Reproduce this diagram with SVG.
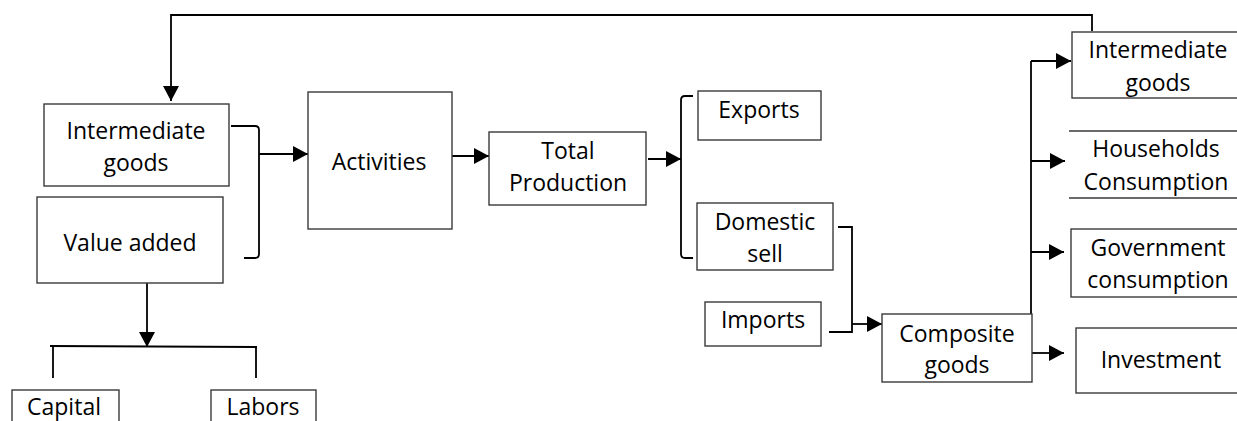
<svg xmlns="http://www.w3.org/2000/svg" width="1237" height="421" viewBox="0 0 1237 421">
<style>
.box{fill:#fff;stroke:#3a3a3a;stroke-width:1.4}
.ln{fill:none;stroke:#000;stroke-width:1.8}
.arr{fill:none;stroke:#000;stroke-width:1.8;marker-end:url(#ah)}
text{font-family:"Open Sans","Noto Sans",sans-serif;font-size:23px;fill:#000;text-anchor:middle}
</style>
<defs>
<marker id="ah" markerUnits="userSpaceOnUse" markerWidth="16" markerHeight="16" refX="15" refY="8" orient="auto">
<path d="M0,0 L15,8 L0,16 z" fill="#000"/>
</marker>
</defs>
<rect width="1237" height="421" fill="#fff"/>
<g id="connectors">
<path class="arr" d="M1092,31 V15 H171 V101"/>
<path class="ln" d="M231,126 H255 Q259,126 259,130 V254 Q259,258 255,258 H244"/>
<path class="arr" d="M259,154 H308"/>
<path class="arr" d="M452,156 H489"/>
<path class="arr" d="M648,159 H681"/>
<path class="ln" d="M693,96 H685 Q681,96 681,100 V254 Q681,258 685,258 H693"/>
<path class="ln" d="M838,227 H852 V332 H829"/>
<path class="arr" d="M852,324 H882"/>
<path class="arr" d="M147,283 V347"/>
<path class="ln" d="M50,346 L257,347"/>
<path class="ln" d="M53,346 V378 M256,347 V378"/>
<path class="ln" d="M1031,332 V61"/>
<path class="arr" d="M1031,61 H1071"/>
<path class="arr" d="M1031,161 H1065"/>
<path class="arr" d="M1031,252 H1064"/>
<path class="arr" d="M1032,353 H1064"/>
</g>
<g id="intermediate-goods-left"><rect class="box" x="44" y="104" width="185" height="82"/><text x="136" y="139">Intermediate</text><text x="136" y="171">goods</text></g>
<g id="value-added"><rect class="box" x="37" y="197" width="186" height="86"/><text x="130" y="251">Value added</text></g>
<g id="activities"><rect class="box" x="308" y="92" width="144" height="137"/><text x="379" y="170">Activities</text></g>
<g id="total-production"><rect class="box" x="489" y="132" width="157" height="73"/><text x="568" y="159">Total</text><text x="568" y="191">Production</text></g>
<g id="exports"><rect class="box" x="698" y="91" width="123" height="49"/><text x="759" y="118">Exports</text></g>
<g id="domestic-sell"><rect class="box" x="697" y="203" width="136" height="67"/><text x="765" y="230">Domestic</text><text x="765" y="262">sell</text></g>
<g id="imports"><rect class="box" x="705" y="302" width="116" height="44"/><text x="763" y="328">Imports</text></g>
<g id="composite-goods"><rect class="box" x="882" y="314" width="150" height="68"/><text x="957" y="342">Composite</text><text x="957" y="373">goods</text></g>
<g id="intermediate-goods-right"><rect class="box" x="1072" y="32" width="170" height="66"/><text x="1158" y="58">Intermediate</text><text x="1158" y="91">goods</text></g>
<g id="households-consumption"><path class="box" d="M1069,131 H1237 M1069,198 H1237"/><text x="1156" y="157">Households</text><text x="1156" y="190">Consumption</text></g>
<g id="government-consumption"><rect class="box" x="1071" y="229" width="171" height="68"/><text x="1158" y="256">Government</text><text x="1158" y="288">consumption</text></g>
<g id="investment"><rect class="box" x="1076" y="328" width="166" height="65"/><text x="1161" y="368">Investment</text></g>
<g id="capital"><rect class="box" x="12" y="390" width="107" height="40"/><text x="64" y="415">Capital</text></g>
<g id="labors"><rect class="box" x="211" y="390" width="105" height="40"/><text x="263" y="415">Labors</text></g>
</svg>
